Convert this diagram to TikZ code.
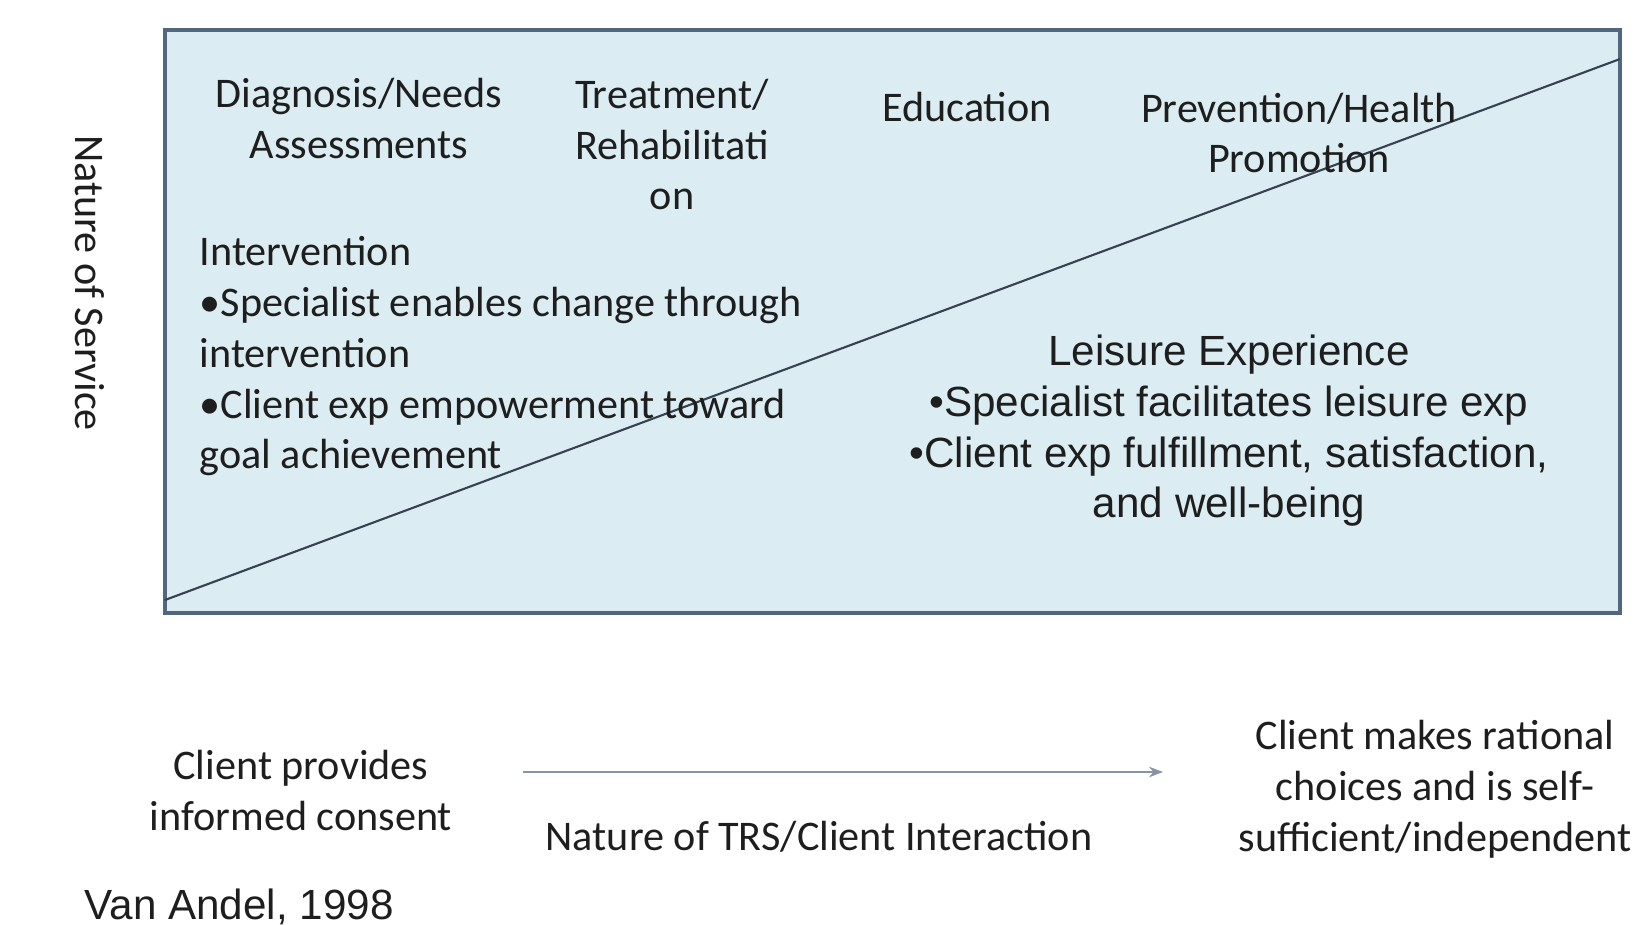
\documentclass[tikz,border=0pt]{standalone}
\usepackage{fontspec}
\setmainfont{Carlito}
\newfontfamily\arialfont{Liberation Sans}
\usetikzlibrary{arrows.meta}

\definecolor{boxfill}{RGB}{219,236,242}
\definecolor{boxedge}{RGB}{82,102,124}
\definecolor{diagline}{RGB}{55,66,80}
\definecolor{inkgray}{RGB}{30,30,30}

\begin{document}
\begin{tikzpicture}[x=0.01cm,y=-0.01cm,
  lbl/.style={text=inkgray,inner sep=0pt,align=center,anchor=base,
    font=\fontsize{12}{14.5}\selectfont},
  lblleft/.style={lbl,align=left,anchor=base west},
  arial/.style={lbl,font=\arialfont\fontsize{12}{14.5}\selectfont}]
\useasboundingbox (0,0) rectangle (1640,925);

% service box and its diagonal
\draw[boxedge,line width=1.1pt,fill=boxfill] (165,30) rectangle (1620,613);
\coordinate (diaglow) at (165,600);
\coordinate (diaghigh) at (1620,59);
\draw[diagline,line width=0.6pt] (diaglow) -- (diaghigh);

% service headings (base = last line)
\node[lbl] (diag) at (359,159) {Diagnosis/Needs\\Assessments};
\node[lbl] (treat) at (672,210) {Treatment/\\Rehabilitati\\on};
\node[lbl] (edu) at (967,122) {Education};
\node[lbl] (prev) at (1299,173) {Prevention/Health\\Promotion};

\node[lblleft] (interv) at (199,469) {Intervention\\
  •Specialist enables change through\\intervention\\
  •Client exp empowerment toward\\goal achievement};
\node[arial] (leisure) at (1229,518) {Leisure Experience\\
  •Specialist facilitates leisure exp\\
  •Client exp fulfillment, satisfaction,\\and well-being};

\node[lbl,rotate=-90,anchor=center] (service) at (90,283) {Nature of Service};

% interaction axis
\coordinate (axisstart) at (523,772);
\coordinate (axisend) at (1163,772);
\draw[boxedge!70,line width=0.45pt,-{Stealth[length=4pt,width=3pt]}] (axisstart) -- (axisend);
\node[lbl] (consent) at (301,830) {Client provides\\informed consent};
\node[lbl] (interact) at (819,850) {Nature of TRS/Client Interaction};
\node[lbl] (selfsuff) at (1435,851) {Client makes rational\\choices and is self-\\sufficient/independent};

\node[arial,anchor=base west] (source) at (84,919) {Van Andel, 1998};
\end{tikzpicture}
\end{document}
